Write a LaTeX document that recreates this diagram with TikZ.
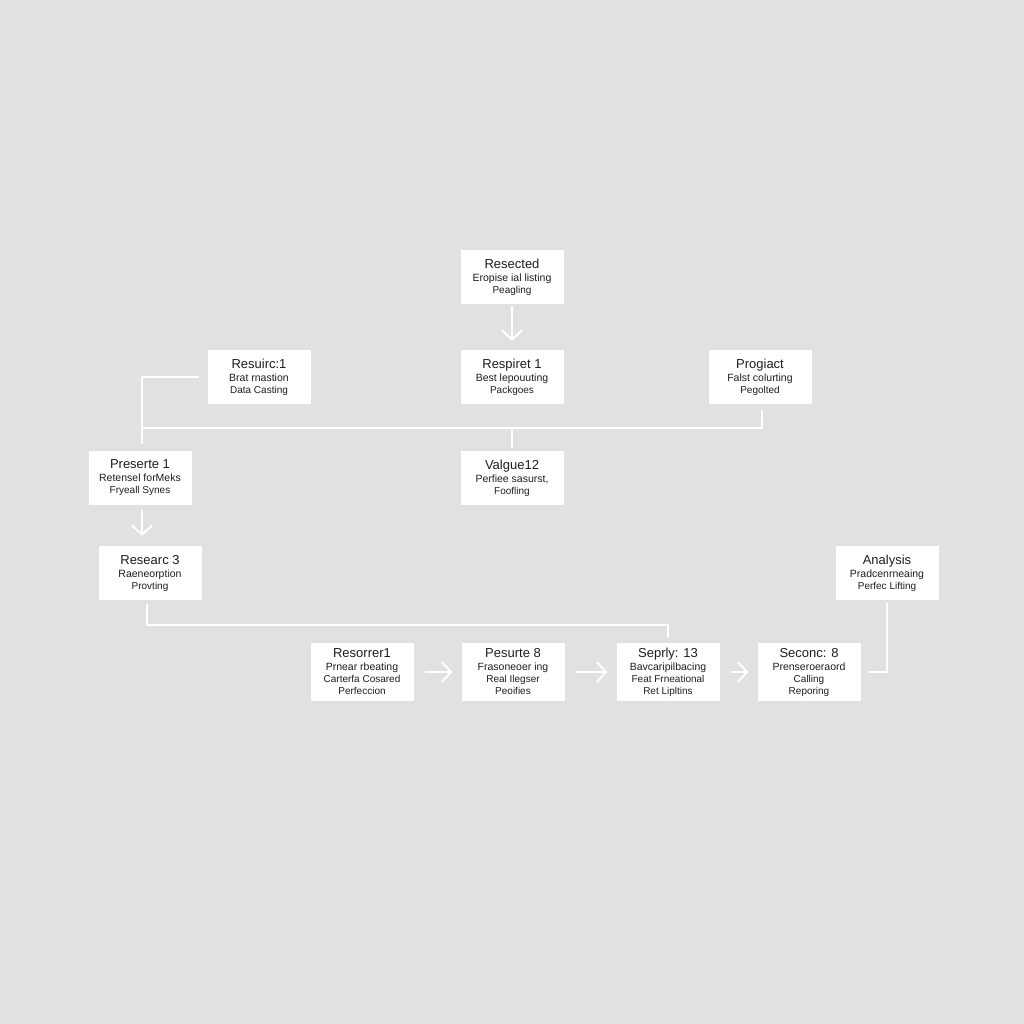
\documentclass[tikz,border=0pt]{standalone}
\usepackage{fontspec}
\setmainfont{Liberation Sans}
\usetikzlibrary{arrows.meta}
\definecolor{bggray}{HTML}{E1E1E1}
\definecolor{inkgray}{HTML}{1E1E1E}
\newcommand{\stagetext}[2]{\fontsize{13}{15}\selectfont #1\\[1pt]\fontsize{10.5}{12}\selectfont #2}
\tikzset{
    stage/.style={fill=white, text=inkgray, align=center, minimum width=103pt,
        minimum height=54pt, inner sep=2pt},
    tall/.style={minimum height=58pt},
    link/.style={draw=white, line width=1.6pt},
    flow/.style={draw=white, line width=2pt, -{Straight Barb[length=9pt,width=20pt,line width=2pt]}}
}
\begin{document}
\begin{tikzpicture}[x=1pt,y=-1pt]
    \fill[bggray] (0,0) rectangle (1024,1024);
    \useasboundingbox (0,0) rectangle (1024,1024);
    %% top rows
    \node[stage] (rese) at (512,277) {\stagetext{Resected}{Eropise ial listing\\Peagling}};
    \node[stage] (resp) at (512,377) {\stagetext{Respiret 1}{Best lepouuting\\Packgoes}};
    \node[stage] (resu) at (259,377) {\stagetext{Resuirc:1}{Brat rnastion\\Data Casting}};
    \node[stage] (prog) at (760,377) {\stagetext{Progiact}{Falst colurting\\Pegolted}};
    \node[stage] (pres) at (140,478) {\stagetext{Preserte 1}{Retensel forMeks\\Fryeall Synes}};
    \node[stage] (valg) at (512,478) {\stagetext{Valgue12}{Perfiee sasurst,\\Foofling}};
    \node[stage] (rsrc) at (150,573) {\stagetext{Researc 3}{Raeneorption\\Provting}};
    \node[stage] (anal) at (887,573) {\stagetext{Analysis}{Pradcenrneaing\\Perfec Lifting}};
    %% bottom row
    \node[stage,tall] (reso) at (362,672) {\stagetext{Resorrer1}{Prnear rbeating\\Carterfa Cosared\\Perfeccion}};
    \node[stage,tall] (pesu) at (513,672) {\stagetext{Pesurte 8}{Frasoneoer ing\\Real Ilegser\\Peoifies}};
    \node[stage,tall] (sepr) at (668,672) {\stagetext{Seprly: 13}{Bavcaripilbacing\\Feat Frneational\\Ret Lipltins}};
    \node[stage,tall] (seco) at (809,672) {\stagetext{Seconc: 8}{Prenseroeraord\\Calling\\Reporing}};
    \coordinate (bus) at (142,428);
    \coordinate (lowbus) at (668,625);
    %% connectors
    \draw[flow, shorten <=2pt, shorten >=9pt] (rese) -- (resp);
    \draw[link] ([xshift=-8pt]resu.west) -| ([xshift=2pt,yshift=7pt]pres.north);
    \draw[link] (bus) -| ([xshift=2pt,yshift=-6pt]prog.south);
    \draw[link] (bus -| valg.north) -- ([yshift=3pt]valg.north);
    \draw[flow, shorten <=5pt, shorten >=10pt] ([xshift=2pt]pres.south) -- ([xshift=2pt]pres.south |- rsrc.north);
    \draw[link] ([xshift=-3pt,yshift=-4pt]rsrc.south) |- (lowbus) -- ([yshift=5pt]sepr.north);
    \foreach \a/\b in {reso/pesu,pesu/sepr,sepr/seco}
        \draw[flow, shorten <=11pt, shorten >=9pt] (\a) -- (\b);
    \draw[link] ([xshift=7pt]seco.east) -| ([yshift=-3pt]anal.south);
\end{tikzpicture}
\end{document}
